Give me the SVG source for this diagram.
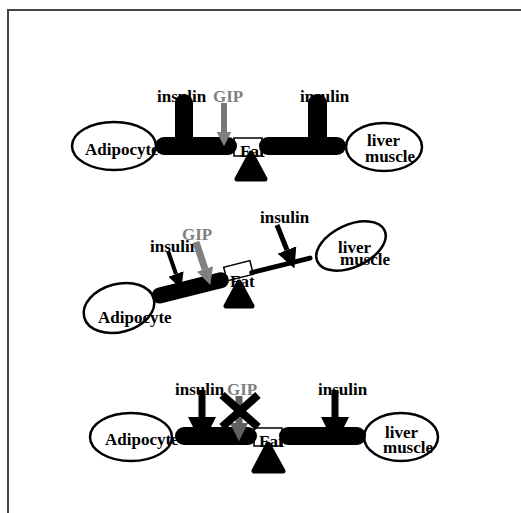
<svg xmlns="http://www.w3.org/2000/svg" width="521" height="513" viewBox="0 0 521 513">
  <style>
    text { font-family: "Liberation Serif", "Times New Roman", serif; font-weight: bold; font-size: 17px; fill: #000; }
    text.gip { fill: #808080; }
    .cell { fill: #fff; stroke: #000; stroke-width: 2.5; }
    .bar { fill: #000; }
    .box { fill: #fff; stroke: #000; stroke-width: 1.5; }
    .pivot { fill: #000; stroke: #000; stroke-width: 5; stroke-linejoin: round; }
    .frame { fill: none; stroke: #444; stroke-width: 2; }
  </style>
  <defs>
    <marker id="headBlack" viewBox="0 0 10 10" refX="0" refY="5" markerWidth="4" markerHeight="4" orient="auto">
      <path d="M0,0 L10,5 L0,10 Z" fill="#000"/>
    </marker>
    <marker id="headGray" viewBox="0 0 10 10" refX="0" refY="5" markerWidth="2.4" markerHeight="2.4" orient="auto">
      <path d="M0,0 L10,5 L0,10 Z" fill="#808080"/>
    </marker>
    <marker id="headDark" viewBox="0 0 10 10" refX="0" refY="5" markerWidth="2.6" markerHeight="2.6" orient="auto">
      <path d="M0,0 L10,5 L0,10 Z" fill="#606060"/>
    </marker>
  </defs>

  <rect width="521" height="513" fill="#fff"/>
  <path class="frame" d="M8,513 V10 H521"/>

  <!-- Balanced state -->
  <g id="balanced">
    <g id="adipocyte1">
      <ellipse class="cell" cx="114" cy="146" rx="42" ry="24"/>
      <text x="85" y="155">Adipocyte</text>
    </g>
    <g id="liver1">
      <ellipse class="cell" cx="384" cy="147" rx="38" ry="24"/>
      <text x="367" y="146">liver</text>
      <text x="365" y="162">muscle</text>
    </g>
    <text x="157" y="102">insulin</text>
    <text x="300" y="102">insulin</text>
    <text class="gip" x="213" y="102">GIP</text>
    <g id="scale1">
      <rect class="box" x="234" y="138" width="28" height="18"/>
      <text x="240" y="157">Fat</text>
      <polygon class="pivot" points="251,153 237,179 265,179"/>
      <rect class="bar" x="175" y="94" width="18" height="55" rx="9"/>
      <rect class="bar" x="308" y="94" width="19" height="55" rx="9"/>
      <rect class="bar" x="155" y="137" width="82" height="18" rx="9"/>
      <rect class="bar" x="259" y="137" width="87" height="18" rx="9"/>
    </g>
    <g id="connectors1">
      <line x1="224" y1="103" x2="224" y2="132" stroke="#777" stroke-width="6" marker-end="url(#headGray)"/>
    </g>
  </g>

  <!-- Tipped state -->
  <g id="tipped">
    <g id="adipocyte2">
      <ellipse class="cell" cx="119" cy="308" rx="36" ry="24" transform="rotate(-15 119 308)"/>
      <text x="98" y="323">Adipocyte</text>
    </g>
    <g id="liver2">
      <ellipse class="cell" cx="351" cy="246" rx="37" ry="21" transform="rotate(-25 351 246)"/>
      <text x="338" y="253">liver</text>
      <text x="340" y="265">muscle</text>
    </g>
    <text x="150" y="252">insulin</text>
    <text x="260" y="223">insulin</text>
    <text class="gip" x="182" y="240">GIP</text>
    <g id="scale2">
      <g transform="rotate(-14 238 275)">
        <rect class="box" x="226" y="264" width="27" height="14"/>
        <rect class="bar" x="149" y="268" width="79" height="16" rx="8"/>
        <line x1="252" y1="276" x2="312" y2="276" stroke="#000" stroke-width="5" stroke-linecap="round"/>
      </g>
      <text x="230" y="287">Fat</text>
      <polygon class="pivot" points="239,282 226,306 252,306"/>
    </g>
    <g id="connectors2">
      <line x1="168" y1="251" x2="176" y2="274" stroke="#000" stroke-width="4" marker-end="url(#headBlack)"/>
      <line x1="277" y1="225" x2="287" y2="250" stroke="#000" stroke-width="5" marker-end="url(#headBlack)"/>
      <line x1="196" y1="242" x2="205" y2="269" stroke="#808080" stroke-width="7" marker-end="url(#headGray)"/>
    </g>
  </g>

  <!-- Blocked state -->
  <g id="blocked">
    <g id="adipocyte3">
      <ellipse class="cell" cx="131" cy="437" rx="41" ry="24"/>
      <text x="105" y="445">Adipocyte</text>
    </g>
    <g id="liver3">
      <ellipse class="cell" cx="401" cy="437" rx="37" ry="24"/>
      <text x="385" y="438">liver</text>
      <text x="383" y="453">muscle</text>
    </g>
    <text x="175" y="395">insulin</text>
    <text x="318" y="395">insulin</text>
    <text class="gip" x="227" y="395">GIP</text>
    <g id="scale3">
      <rect class="box" x="254" y="428" width="28" height="18"/>
      <text x="259" y="447">Fat</text>
      <polygon class="pivot" points="268,444 254,471 283,471"/>
      <rect class="bar" x="175" y="427" width="82" height="18" rx="9"/>
      <rect class="bar" x="279" y="427" width="87" height="18" rx="9"/>
    </g>
    <g id="connectors3">
      <line x1="202" y1="390" x2="202" y2="417" stroke="#000" stroke-width="7" marker-end="url(#headBlack)"/>
      <line x1="335" y1="390" x2="335" y2="417" stroke="#000" stroke-width="7" marker-end="url(#headBlack)"/>
      <line x1="239" y1="396" x2="239" y2="423" stroke="#606060" stroke-width="7" marker-end="url(#headDark)"/>
      <path d="M222,395 L258,427 M258,395 L222,427" stroke="#000" stroke-width="8" fill="none"/>
    </g>
  </g>
</svg>
